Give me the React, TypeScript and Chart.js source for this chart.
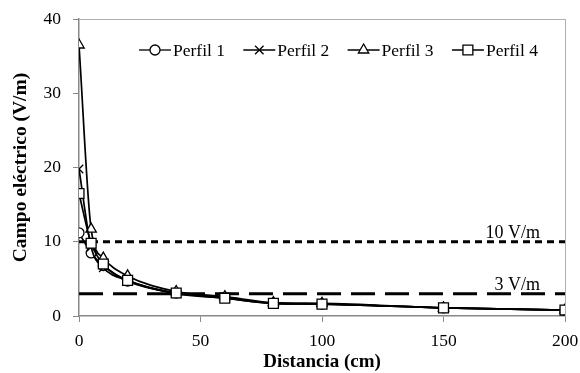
import React, { useEffect, useRef } from "react";
import { Chart, registerables } from "chart.js";

Chart.register(...registerables);

const distances = [0, 5, 10, 20, 40, 60, 80, 100, 150, 200];
const perfil1 = [11.2, 8.5, 6.8, 4.7, 3.1, 2.5, 1.7, 1.6, 1.1, 0.8];
const perfil2 = [19.8, 9.3, 6.5, 4.8, 3.0, 2.4, 1.7, 1.6, 1.1, 0.8];
const perfil3 = [36.5, 11.7, 7.8, 5.4, 3.3, 2.6, 1.8, 1.7, 1.1, 0.8];
const perfil4 = [16.5, 9.8, 7.0, 4.8, 3.1, 2.4, 1.7, 1.6, 1.1, 0.8];
const seriesLabels = ["Perfil 1", "Perfil 2", "Perfil 3", "Perfil 4"];
const pointStyles = ["circle", "crossRot", "triangle", "rect"];
const pointRadii = [5, 6, 6, 7];
const limits = [10, 3];
const limitLabels = ["10 V/m", "3 V/m"];
const limitDashes = [[7, 5], [24, 10]];

const FONT = "'Liberation Serif', 'Times New Roman', serif";

function drawMarker(ctx: CanvasRenderingContext2D, style: string, x: number, y: number, r: number) {
  ctx.save();
  ctx.beginPath();
  ctx.fillStyle = "#fff";
  ctx.strokeStyle = "#000";
  ctx.lineWidth = 1.3;
  if (style === "circle") {
    ctx.arc(x, y, r, 0, Math.PI * 2);
    ctx.fill();
    ctx.stroke();
  } else if (style === "rect") {
    const s = r * Math.SQRT1_2;
    ctx.rect(x - s, y - s, 2 * s, 2 * s);
    ctx.fill();
    ctx.stroke();
  } else if (style === "triangle") {
    ctx.moveTo(x, y - r);
    ctx.lineTo(x + r * 0.866, y + r * 0.5);
    ctx.lineTo(x - r * 0.866, y + r * 0.5);
    ctx.closePath();
    ctx.fill();
    ctx.stroke();
  } else if (style === "crossRot") {
    const s = r * Math.SQRT1_2;
    ctx.moveTo(x - s, y - s);
    ctx.lineTo(x + s, y + s);
    ctx.moveTo(x + s, y - s);
    ctx.lineTo(x - s, y + s);
    ctx.stroke();
  }
  ctx.restore();
}

const extrasPlugin = {
  id: "extras",
  afterDraw(chart: any) {
    const { ctx, chartArea, scales } = chart;
    ctx.save();
    ctx.strokeStyle = "#b0b0b0";
    ctx.lineWidth = 1;
    ctx.beginPath();
    ctx.moveTo(chartArea.left, chartArea.top + 0.5);
    ctx.lineTo(chartArea.right, chartArea.top + 0.5);
    ctx.moveTo(chartArea.right + 0.5, chartArea.top);
    ctx.lineTo(chartArea.right + 0.5, chartArea.bottom);
    ctx.stroke();
    ctx.fillStyle = "#000";
    ctx.font = `18px ${FONT}`;
    ctx.textAlign = "right";
    ctx.textBaseline = "alphabetic";
    limits.forEach((v, i) => {
      const y = scales.y.getPixelForValue(v);
      ctx.fillText(limitLabels[i], chartArea.right - 25, y - 4);
    });
    const ly = chartArea.top + 31;
    seriesLabels.forEach((lab, i) => {
      const x0 = chartArea.left + 60 + i * 104.3;
      ctx.strokeStyle = "#000";
      ctx.lineWidth = 1.3;
      ctx.beginPath();
      ctx.moveTo(x0, ly);
      ctx.lineTo(x0 + 32, ly);
      ctx.stroke();
      drawMarker(ctx, pointStyles[i], x0 + 16, ly, pointRadii[i]);
      ctx.fillStyle = "#000";
      ctx.font = `17.5px ${FONT}`;
      ctx.textAlign = "left";
      ctx.textBaseline = "middle";
      ctx.fillText(lab, x0 + 34, ly + 1);
    });
    ctx.restore();
  },
};

export default function App() {
  const ref = useRef<HTMLCanvasElement | null>(null);
  useEffect(() => {
    document.body.style.margin = "0";
    const series = [perfil1, perfil2, perfil3, perfil4];
    const datasets: any[] = [];
    limits.forEach((v, i) => {
      datasets.push({
        label: limitLabels[i],
        data: [
          { x: distances[0], y: v },
          { x: distances[distances.length - 1], y: v },
        ],
        borderColor: "#000",
        borderWidth: 3,
        borderDash: limitDashes[i],
        pointRadius: 0,
        tension: 0,
        order: 10,
      });
    });
    series.forEach((s, i) => {
      datasets.push({
        label: seriesLabels[i],
        data: distances.map((d, j) => ({ x: d, y: s[j] })),
        borderColor: "#000",
        borderWidth: 1.7,
        pointStyle: pointStyles[i],
        pointRadius: pointRadii[i],
        pointBackgroundColor: "#fff",
        pointBorderColor: "#000",
        pointBorderWidth: 1.3,
        cubicInterpolationMode: "monotone",
        order: 5 - i,
      });
    });
    const chart = new Chart(ref.current as HTMLCanvasElement, {
      type: "line",
      data: { datasets },
      options: {
        animation: false,
        responsive: false,
        maintainAspectRatio: false,
        layout: { padding: { top: 19, right: 15, left: 0, bottom: 0 } },
        plugins: { legend: { display: false }, tooltip: { enabled: false } },
        scales: {
          x: {
            type: "linear",
            min: 0,
            max: 200,
            ticks: { stepSize: 50, color: "#000", font: { family: FONT, size: 17.5 }, padding: 9, maxRotation: 0 },
            grid: { display: true, drawOnChartArea: false, drawTicks: true, tickLength: 6, color: "#888" },
            border: { color: "#888", width: 1.5 },
            title: { display: true, text: "Distancia (cm)", color: "#000", font: { family: FONT, size: 19, weight: "bold" }, padding: { top: 0, bottom: 0 } },
            afterFit: (s: any) => { s.height = 57; s.paddingLeft = 0; s.paddingRight = 0; },
          },
          y: {
            min: 0,
            max: 40,
            ticks: { stepSize: 10, color: "#000", font: { family: FONT, size: 17.5 }, padding: 12 },
            grid: { display: true, drawOnChartArea: false, drawTicks: true, tickLength: 6, color: "#888" },
            border: { color: "#888", width: 1.5 },
            title: { display: true, text: "Campo eléctrico (V/m)", color: "#000", font: { family: FONT, size: 19.5, weight: "bold" }, padding: { top: 9, bottom: 0 } },
            afterFit: (s: any) => { s.width = 79; s.paddingTop = 0; s.paddingBottom = 0; },
          },
        },
      },
      plugins: [extrasPlugin],
    } as any);
    return () => chart.destroy();
  }, []);
  return (
    <div style={{ width: 580, height: 373, background: "#fff" }}>
      <canvas ref={ref} width={580} height={373} style={{ display: "block" }} />
    </div>
  );
}
